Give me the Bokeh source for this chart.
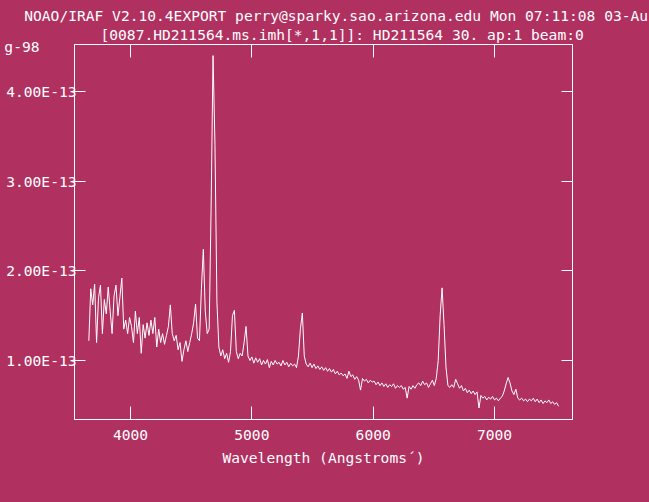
import numpy as np
from bokeh.plotting import figure
from bokeh.models import LinearAxis, FixedTicker, Range1d, Title, GlobalInlineStyleSheet
from bokeh.embed import file_html
from bokeh.resources import INLINE

BG = "#B03060"
FG = "#FFFFFF"
FONT = "DejaVu Sans Mono"
FS = "14.6px"

# ---- data (flux in units of 1e-13, linear dispersion as in the IRAF spectrum) ----
wave_start = 3656.0   # Angstrom, first pixel
wave_step = 16.0      # Angstrom per pixel
flux_e13 = [
    1.22, 1.80, 1.62, 1.85, 1.20, 1.70, 1.84, 1.30, 1.68, 1.52,
    1.82, 1.55, 1.30, 1.72, 1.84, 1.50, 1.70, 1.92, 1.35, 1.45,
    1.30, 1.48, 1.38, 1.20, 1.55, 1.30, 1.48, 1.08, 1.40, 1.25,
    1.42, 1.28, 1.45, 1.30, 1.48, 1.15, 1.35, 1.20, 1.30, 1.18,
    1.28, 1.38, 1.62, 1.30, 1.22, 1.28, 1.12, 1.20, 0.99, 1.12,
    1.22, 1.10, 1.20, 1.30, 1.42, 1.63, 1.25, 1.22, 1.80, 2.24,
    1.55, 1.30, 1.35, 2.70, 4.40, 3.40, 1.65, 1.15, 1.05, 1.12,
    1.02, 1.08, 0.98, 1.10, 1.50, 1.56, 1.10, 1.02, 1.08, 1.05,
    1.20, 1.38, 1.05, 1.00, 1.04, 0.97, 1.03, 0.98, 1.02, 0.95,
    1.00, 0.96, 1.01, 0.92, 0.99, 0.95, 1.00, 0.96, 0.98, 0.94,
    1.00, 0.95, 0.98, 0.93, 0.97, 0.94, 0.96, 0.92, 1.05, 1.35,
    1.53, 1.05, 0.96, 0.93, 0.97, 0.92, 0.96, 0.91, 0.94, 0.90,
    0.93, 0.89, 0.92, 0.88, 0.91, 0.87, 0.90, 0.85, 0.88, 0.84,
    0.86, 0.83, 0.85, 0.80, 0.88, 0.82, 0.84, 0.79, 0.82, 0.78,
    0.67, 0.80, 0.77, 0.79, 0.75, 0.78, 0.76, 0.77, 0.73, 0.76,
    0.72, 0.75, 0.71, 0.74, 0.70, 0.73, 0.71, 0.74, 0.69, 0.72,
    0.70, 0.72, 0.68, 0.70, 0.58, 0.71, 0.68, 0.72, 0.69, 0.73,
    0.75, 0.72, 0.77, 0.73, 0.75, 0.70, 0.74, 0.78, 0.72, 0.80,
    1.00, 1.50, 1.81, 1.40, 0.93, 0.72, 0.70, 0.73, 0.70, 0.79,
    0.74, 0.69, 0.72, 0.66, 0.69, 0.64, 0.67, 0.63, 0.66, 0.62,
    0.65, 0.47, 0.61, 0.58, 0.60, 0.56, 0.59, 0.57, 0.60, 0.56,
    0.58, 0.55, 0.58, 0.60, 0.66, 0.74, 0.81, 0.75, 0.66, 0.62,
    0.68, 0.58, 0.56, 0.58, 0.55, 0.57, 0.54, 0.57, 0.55, 0.58,
    0.54, 0.57, 0.53, 0.56, 0.52, 0.55, 0.53, 0.56, 0.52, 0.54,
    0.51, 0.53, 0.49,
]
wavelength = wave_start + wave_step * np.arange(len(flux_e13))

x_ticks = [4000, 5000, 6000, 7000]
x_tick_labels = ["4000", "5000", "6000", "7000"]
y_ticks = [1, 2, 3, 4]
y_tick_labels = ["1.00E-13", "2.00E-13", "3.00E-13", "4.00E-13"]

title_line1 = "NOAO/IRAF V2.10.4EXPORT perry@sparky.sao.arizona.edu Mon 07:11:08 03-Au"
title_wrap = "g-98"          # wrapped tail of the first title line
title_wrap_at = 4.498        # height (flux units) at which the wrapped tail sits
title_line2 = "[0087.HD211564.ms.imh[*,1,1]]: HD211564 30. ap:1 beam:0"
x_label = "Wavelength (Angstroms\u00b4)"

W, H = 649, 502
p = figure(width=W, height=H, output_backend="svg", toolbar_location=None,
           x_range=Range1d(3538, 7643), y_range=Range1d(0.342, 4.524),
           x_axis_location=None, y_axis_location=None,
           min_border_left=74, min_border_right=77, min_border_top=44, min_border_bottom=83,
           background_fill_color=BG, border_fill_color=BG, outline_line_color=FG)
p.stylesheets = [GlobalInlineStyleSheet(css="html, body { background-color: #B03060; }")]
p.xgrid.visible = False
p.ygrid.visible = False


def style(ax, tick_in):
    ax.axis_line_color = FG
    ax.major_tick_line_color = FG
    ax.major_tick_in = tick_in
    ax.major_tick_out = 0
    ax.minor_tick_line_color = None
    ax.major_label_text_color = FG
    ax.major_label_text_font = FONT
    ax.major_label_text_font_size = FS
    ax.axis_label_text_color = FG
    ax.axis_label_text_font = FONT
    ax.axis_label_text_font_size = FS
    ax.axis_label_text_font_style = "normal"


left = LinearAxis(ticker=FixedTicker(ticks=y_ticks),
                  major_label_overrides=dict(zip(y_ticks, y_tick_labels)))
style(left, 11)
left.major_label_standoff = -2
p.add_layout(left, "left")

# outer left axis carrying only the wrapped end of the title line
wrap_axis = LinearAxis(ticker=FixedTicker(ticks=[title_wrap_at]),
                       major_label_overrides={title_wrap_at: title_wrap})
style(wrap_axis, 0)
wrap_axis.axis_line_color = None
wrap_axis.major_tick_line_color = None
wrap_axis.major_label_standoff = -36
p.add_layout(wrap_axis, "left")

right = LinearAxis(ticker=FixedTicker(ticks=y_ticks),
                   major_label_overrides={t: "" for t in y_ticks})
style(right, 11)
right.major_label_standoff = 0
p.add_layout(right, "right")

bottom = LinearAxis(ticker=FixedTicker(ticks=x_ticks),
                    major_label_overrides=dict(zip(x_ticks, x_tick_labels)),
                    axis_label=x_label)
style(bottom, 13)
bottom.major_label_standoff = 10
bottom.axis_label_standoff = 6
p.add_layout(bottom, "below")

top = LinearAxis(ticker=FixedTicker(ticks=x_ticks),
                 major_label_overrides={t: "" for t in x_ticks})
style(top, 13)
top.major_label_text_font_size = "0px"
top.major_label_standoff = 0
p.add_layout(top, "above")

for txt, off, so in [(title_line2, 26, 4), (title_line1, -50.25, -4)]:
    p.add_layout(Title(text=txt, align="left", offset=off, standoff=so,
                       text_color=FG, text_font=FONT, text_font_size=FS,
                       text_font_style="normal"), "above")

p.line(wavelength, flux_e13, line_color=FG, line_width=1)

open("out.html", "w").write(file_html(p, INLINE))
